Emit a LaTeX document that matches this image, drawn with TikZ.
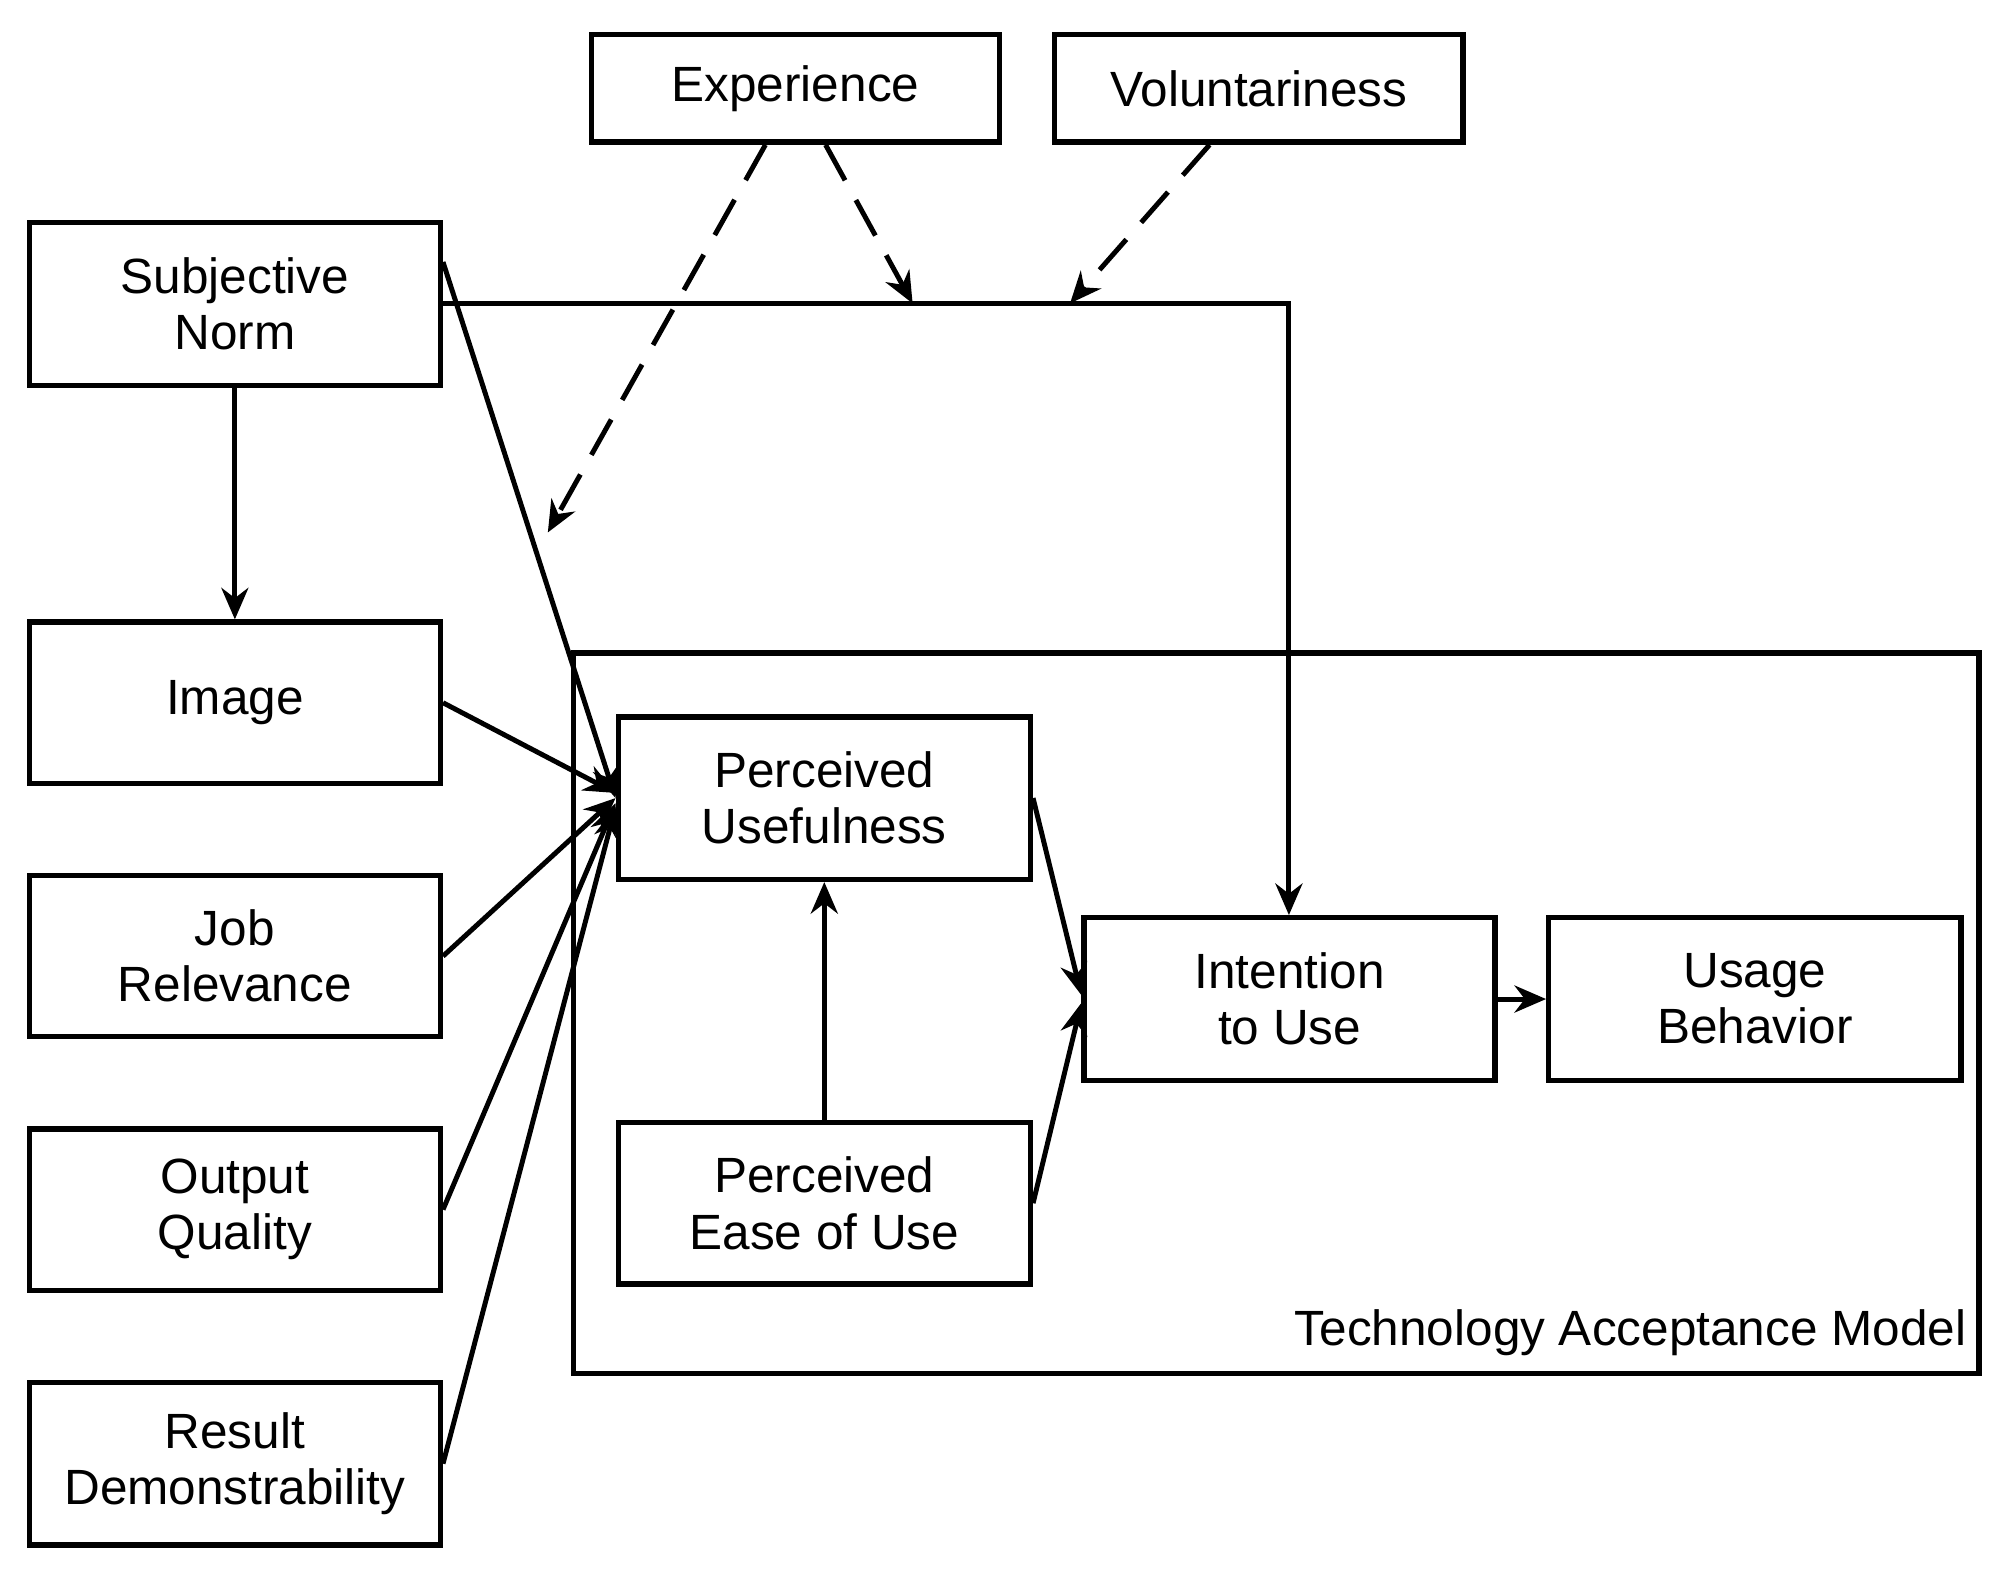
\documentclass[tikz,border=0pt]{standalone}
\usepackage{fontspec}
\setmainfont{Liberation Sans}
\usetikzlibrary{arrows.meta,calc}
\begin{document}
\begin{tikzpicture}[x=0.01cm,y=-0.01cm,
  box/.style={draw,line width=1.2pt,align=center,inner sep=0pt,font=\fontsize{11}{12.5}\selectfont},
  arr/.style={line width=1.1pt,-{Stealth[length=7pt,width=6pt]}},
  dsh/.style={arr,dash pattern=on 9pt off 5pt}]
\useasboundingbox (0,0) rectangle (1568,1238);
\newcommand{\bx}[6]{\node[box,minimum width={(#4-#2)*0.01cm},minimum height={(#5-#3)*0.01cm}] (#1) at ({(#2+#4)/2},{(#3+#5)/2}) {#6};}
\draw[line width=1.2pt] (448,510) rectangle (1546,1073);
\node[anchor=south east,font=\fontsize{11}{12.5}\selectfont,inner sep=0pt] (tam) at (1537,1060) {Technology Acceptance Model};
\bx{exp}{462}{27}{781}{111}{Experience}
\bx{vol}{824}{27}{1143}{111}{Voluntariness}
\bx{sn}{23}{174}{344}{301}{Subjective\\ Norm}
\bx{img}{23}{486}{344}{612}{Image}
\bx{job}{23}{684}{344}{810}{Job\\ Relevance}
\bx{out}{23}{882}{344}{1008}{Output\\ Quality}
\bx{res}{23}{1080}{344}{1207}{Result\\ Demonstrability}
\bx{pu}{483}{560}{805}{687}{Perceived\\ Usefulness}
\bx{peou}{483}{877}{805}{1003}{Perceived\\ Ease of Use}
\bx{itu}{847}{717}{1168}{844}{Intention\\ to Use}
\bx{ub}{1210}{717}{1532}{844}{Usage\\ Behavior}
\coordinate (c1) at (1007,237);
\coordinate (d1) at (428,416);
\coordinate (d2) at (713,237);
\coordinate (d3) at (836,237);
\draw[arr] (sn.east |- c1) -- (c1) -- (itu.north -| c1);
\draw[arr] ($(sn.north east)!0.5!(sn.east)$) -- (pu.west);
\draw[arr] (sn.south) -- (img.north);
\draw[arr] (img.east) -- ($(pu.west)+(0,-4)$);
\draw[arr] (job.east) -- (pu.west);
\draw[arr] (out.east) -- ($(pu.west)+(0,4)$);
\draw[arr] (res.east) -- ($(pu.west)+(0,7)$);
\draw[arr] (pu.east) -- ($(itu.west)+(0,-3)$);
\draw[arr] (peou.east) -- ($(itu.west)+(0,3)$);
\draw[arr] (peou.north) -- (pu.south);
\draw[arr] (itu.east) -- (ub.west);
\draw[dsh] (exp.south -| 598,0) -- (d1);
\draw[dsh] (exp.south -| 645,0) -- (d2);
\draw[dsh] (vol.south -| 945,0) -- (d3);
\end{tikzpicture}
\end{document}
